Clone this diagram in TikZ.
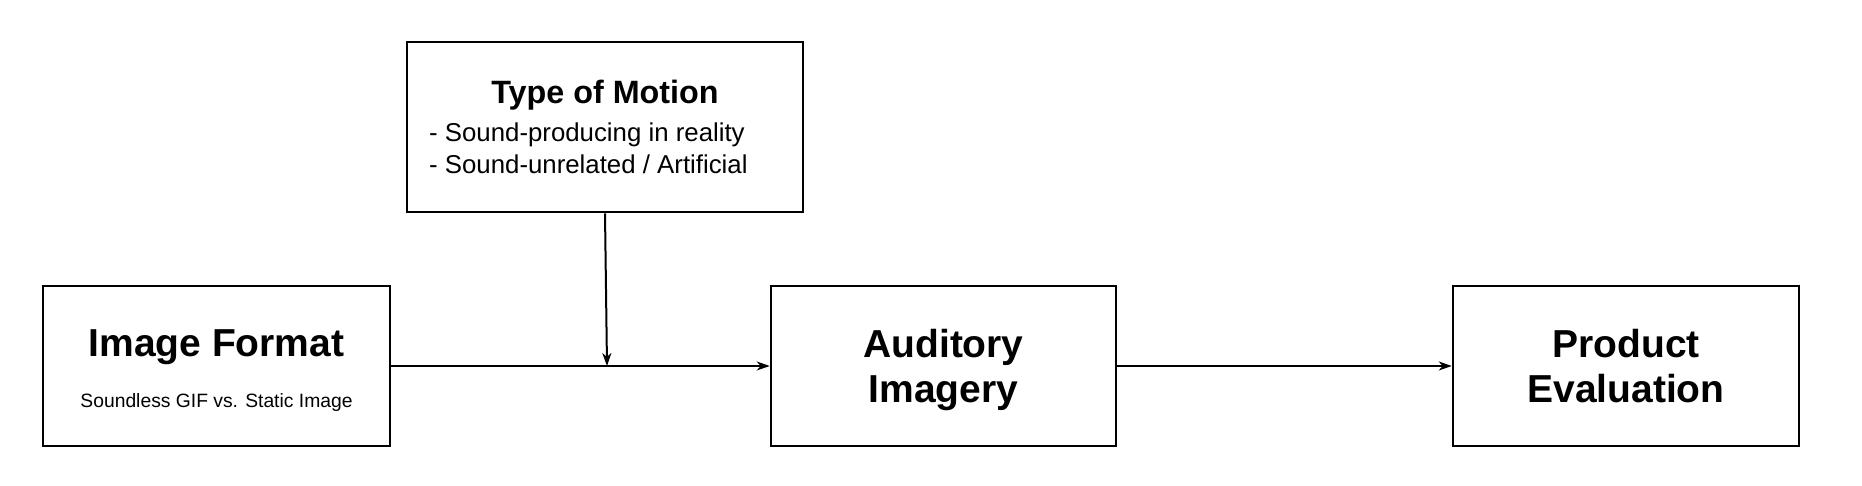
\documentclass[tikz,border=0pt]{standalone}
\usepackage{fontspec}
\setmainfont{Liberation Sans}
\usetikzlibrary{arrows.meta}
\begin{document}
\begin{tikzpicture}[x=1pt,y=-1pt,
  box/.style={draw, line width=2.6pt, inner sep=0pt, fill=white},
  conn/.style={line width=2pt, -{Stealth[length=13pt,width=9pt,inset=4pt]}},
  big/.style={font=\bfseries\fontsize{39}{45}\selectfont, inner sep=0pt, align=center},
  mid/.style={font=\bfseries\fontsize{32.3}{38}\selectfont, inner sep=0pt},
  bul/.style={font=\fontsize{25.8}{27}\selectfont, inner sep=0pt},
  small/.style={font=\fontsize{19.3}{23}\selectfont, inner sep=0pt}]
\useasboundingbox[fill=white] (0,0) rectangle (1862,486);
% boxes
\node[box, minimum width=347pt, minimum height=160pt] (img) at (216.5,366) {};
\node[box, minimum width=396pt, minimum height=170pt] (tm) at (605,127) {};
\node[box, minimum width=345pt, minimum height=160pt] (aud) at (943.5,366) {};
\node[box, minimum width=346pt, minimum height=160pt] (pe) at (1626,366) {};
% texts
\node[big, anchor=base] (imgt) at (216.5,356) {Image Format};
\node[small, anchor=base] (imgs) at (216.5,407) {Soundless GIF vs. Static Image};
\node[mid, anchor=base] (tmt) at (605,104) {Type of Motion};
\node[bul, anchor=base west] (tm1) at (429,142) {- Sound-producing in reality};
\node[bul, anchor=base west] (tm2) at (429,174) {- Sound-unrelated / Artificial};
\node[big, anchor=base] (audt) at (943.5,402) {Auditory\\Imagery};
\node[big, anchor=base] (pet) at (1626,402) {Product\\Evaluation};
% connectors
\coordinate (j) at (607,366);
\draw[conn] (img.east) -- (aud.west);
\draw[conn] (aud.east) -- (pe.west);
\draw[conn] (tm.south) -- (j);
\end{tikzpicture}
\end{document}
